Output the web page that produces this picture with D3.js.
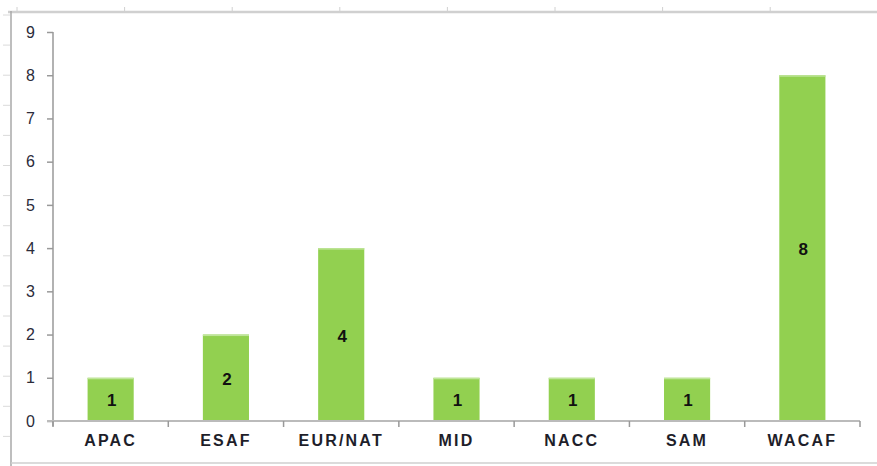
<!DOCTYPE html>
<html>
<head>
<meta charset="utf-8">
<script src="https://cdn.jsdelivr.net/npm/d3@7"></script>
<style>
  body { margin: 0; background: #fff; }
  svg { display: block; font-family: "Liberation Sans", Arial, sans-serif; }
</style>
</head>
<body>
<div id="main"></div>
<script>
var categories = ["APAC", "ESAF", "EUR/NAT", "MID", "NACC", "SAM", "WACAF"];
var values = [1, 2, 4, 1, 1, 1, 8];
var yTicks = [0, 1, 2, 3, 4, 5, 6, 7, 8, 9];

var outerWidth = 877;
var outerHeight = 466;

var marginLeft = 53;
var marginTop = 32;
var marginRight = 17;
var marginBottom = 45;

var innerWidth = outerWidth - marginLeft - marginRight;
var innerHeight = outerHeight - marginTop - marginBottom;

var xScale = d3.scaleBand().domain(categories).range([0, innerWidth]).padding(0);
var yScale = d3.scaleLinear().domain([0, 9]).range([innerHeight, 0]);

var svg = d3.select("#main")
    .append("svg")
    .attr("width", outerWidth)
    .attr("height", outerHeight);

// page frame with ruler marks
var frame = svg.append("g");
frame.append("line")
    .attr("x1", 8).attr("x2", outerWidth).attr("y1", 12).attr("y2", 12)
    .attr("stroke", "#d0d0d0").attr("stroke-width", 2.5);
frame.append("line")
    .attr("x1", 11).attr("x2", 11).attr("y1", 11).attr("y2", outerHeight)
    .attr("stroke", "#a8a8a8").attr("stroke-width", 1.5);
frame.append("line")
    .attr("x1", 11).attr("x2", outerWidth).attr("y1", 463).attr("y2", 463)
    .attr("stroke", "#cfcfcf").attr("stroke-width", 1.5);

var rulerX = d3.range(17, outerWidth, 107.6);
frame.selectAll(".rx").data(rulerX).enter().append("line")
    .attr("x1", d => d).attr("x2", d => d).attr("y1", 7).attr("y2", 12)
    .attr("stroke", "#d0d0d0").attr("stroke-width", 1);
var rulerY = d3.range(15, 460, 30.1);
frame.selectAll(".ry").data(rulerY).enter().append("line")
    .attr("x1", 3).attr("x2", 10).attr("y1", d => d).attr("y2", d => d)
    .attr("stroke", "#dadada").attr("stroke-width", 1);

var g = svg.append("g")
    .attr("transform", "translate(" + marginLeft + "," + marginTop + ")");

// bars
var barW = xScale.bandwidth() * 0.4;
g.selectAll("rect.bar").data(values).enter()
    .append("rect")
    .attr("class", "bar")
    .attr("x", (d, i) => xScale(categories[i]) + (xScale.bandwidth() - barW) / 2)
    .attr("y", d => yScale(d))
    .attr("width", barW)
    .attr("height", d => innerHeight - yScale(d))
    .attr("fill", "#92d050");

g.selectAll("rect.top").data(values).enter()
    .append("rect")
    .attr("x", (d, i) => xScale(categories[i]) + (xScale.bandwidth() - barW) / 2)
    .attr("y", d => yScale(d))
    .attr("width", barW)
    .attr("height", 1.5)
    .attr("fill", "#bfe59a");

g.selectAll("text.val").data(values).enter()
    .append("text")
    .attr("x", (d, i) => xScale(categories[i]) + xScale.bandwidth() / 2 + 1)
    .attr("y", d => (yScale(d) + innerHeight) / 2 + 7)
    .attr("text-anchor", "middle")
    .attr("font-size", 17)
    .attr("font-weight", "bold")
    .attr("fill", "#111")
    .text(d => d);

// y axis
var yAxis = d3.axisLeft(yScale).tickValues(yTicks).tickSize(6).tickPadding(12);
var yAxisG = g.append("g").call(yAxis);
yAxisG.select(".domain").attr("stroke", "#999").attr("stroke-width", 1.5)
    .attr("d", "M0," + yScale(9) + "V" + (innerHeight + 5));
yAxisG.selectAll(".tick line").attr("stroke", "#999").attr("stroke-width", 1.5);
yAxisG.selectAll(".tick text")
    .attr("font-size", 16)
    .attr("font-family", "'Liberation Sans', Arial, sans-serif")
    .attr("fill", "#2b2b3a");

// x axis
var xAxis = d3.axisBottom(xScale).tickSize(0).tickPadding(14);
var xAxisG = g.append("g")
    .attr("transform", "translate(0," + innerHeight + ")")
    .call(xAxis);
xAxisG.select(".domain").attr("stroke", "#bbb").attr("stroke-width", 2)
    .attr("d", "M-6,0H" + innerWidth);
xAxisG.selectAll(".tick text")
    .attr("font-size", 16)
    .attr("font-weight", "bold")
    .attr("letter-spacing", "2.2px")
    .attr("font-family", "'Liberation Sans', Arial, sans-serif")
    .attr("fill", "#1e1e2a");

var bounds = categories.map(c => xScale(c)).concat([innerWidth]);
xAxisG.selectAll(".sep").data(bounds).enter().append("line")
    .attr("x1", d => d).attr("x2", d => d).attr("y1", 0).attr("y2", 6)
    .attr("stroke", "#999").attr("stroke-width", 1.5);
</script>
</body>
</html>
